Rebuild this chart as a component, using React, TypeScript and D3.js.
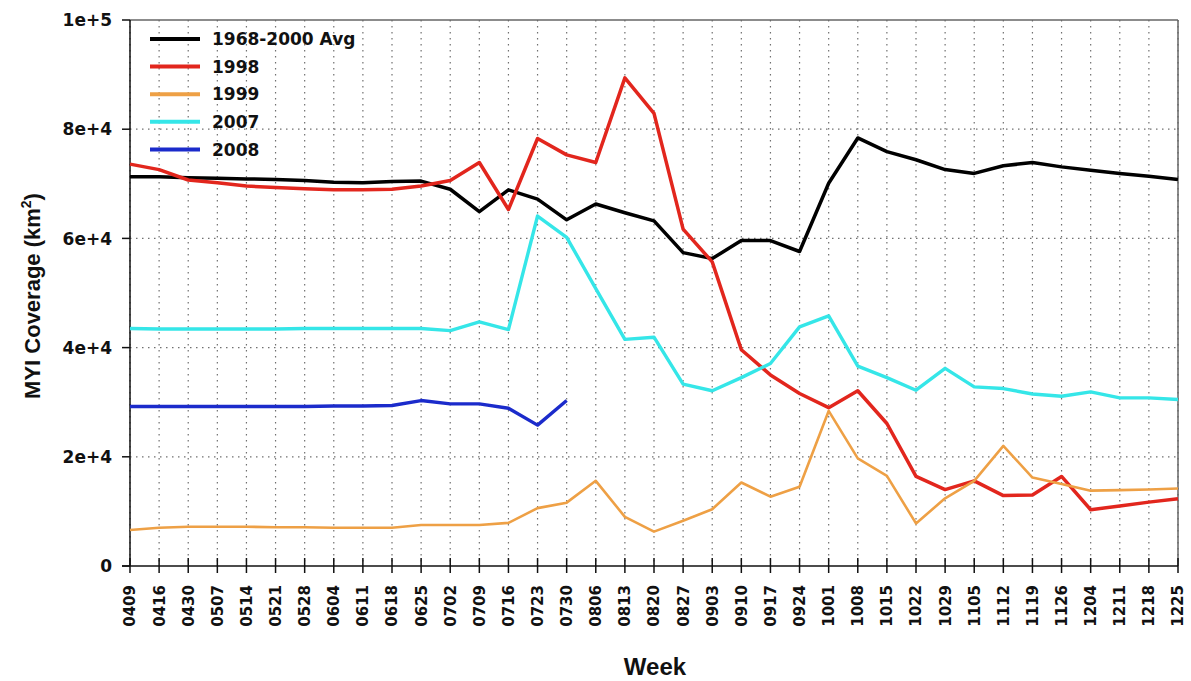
import React from "react";
import * as d3 from "d3";

const weeks = ["0409","0416","0430","0507","0514","0521","0528","0604","0611","0618","0625","0702","0709","0716","0723","0730","0806","0813","0820","0827","0903","0910","0917","0924","1001","1008","1015","1022","1029","1105","1112","1119","1126","1204","1211","1218","1225"];

const avg6800 = [71300,71300,71100,71000,70900,70800,70600,70300,70200,70400,70500,69000,64900,68900,67200,63400,66300,64700,63200,57400,56300,59600,59600,57600,70100,78400,75900,74400,72600,71900,73300,73900,73100,72500,71900,71400,70800];
const y1998 = [73600,72600,70700,70200,69600,69300,69100,68900,68900,69000,69600,70600,73900,65300,78300,75300,73900,89400,82900,61700,55700,39600,35000,31600,29000,32100,26100,16400,14000,15600,12900,13000,16400,10300,11000,11700,12300];
const y1999 = [6600,7000,7200,7200,7200,7100,7100,7000,7000,7000,7500,7500,7500,7900,10600,11600,15600,9000,6300,8300,10400,15300,12700,14500,28400,19700,16500,7800,12400,15600,22000,16200,15000,13800,13900,14000,14200];
const y2007 = [43500,43400,43400,43400,43400,43400,43500,43500,43500,43500,43500,43100,44700,43300,64100,60200,50800,41500,41900,33300,32100,34500,37100,43800,45800,36600,34500,32200,36200,32800,32500,31500,31100,31900,30800,30800,30500];
const y2008 = [29200,29200,29200,29200,29200,29200,29200,29300,29300,29400,30300,29700,29700,28900,25800,30300];

const seriesNames = ["1968-2000 Avg","1998","1999","2007","2008"];
const seriesColors = ["#000000","#e2261d","#eea045","#35e6e8","#1b2bcb"];
const seriesWidths = [3.5,3.5,2.6,3.4,3.4];
const seriesData = [avg6800,y1998,y1999,y2007,y2008];

const yTicks = [0,20000,40000,60000,80000,100000];
const yTickLabels = ["0","2e+4","4e+4","6e+4","8e+4","1e+5"];

export default function App() {
  const left = 130, right = 1178, top = 20, bottom = 566;
  const x = d3.scalePoint<string>().domain(weeks).range([left, right]);
  const y = d3.scaleLinear().domain([0, 100000]).range([bottom, top]);
  const line = d3.line<number>()
    .x((_, i) => x(weeks[i]) as number)
    .y((d) => y(d));
  const tickFont = "'DejaVu Sans', sans-serif";
  const titleFont = "'Liberation Sans', Arial, sans-serif";
  return (
    <svg width={1191} height={681} style={{ position: "absolute", left: 0, top: 0, background: "#fff" }}>
      {/* grid */}
      {weeks.map((w) => (
        <line key={"gv" + w} x1={x(w)} x2={x(w)} y1={top} y2={bottom} stroke="#707070" strokeWidth={1.2} strokeDasharray="1.5,4.5" />
      ))}
      {yTicks.slice(1, -1).map((t) => (
        <line key={"gh" + t} x1={left} x2={right} y1={y(t)} y2={y(t)} stroke="#707070" strokeWidth={1.2} strokeDasharray="1.5,4.5" />
      ))}
      {/* frame */}
      <line x1={left} x2={right} y1={top} y2={top} stroke="#666" strokeWidth={1.5} />
      <line x1={right} x2={right} y1={top} y2={bottom} stroke="#666" strokeWidth={1.5} />
      <line x1={left} x2={left} y1={top} y2={bottom} stroke="#111" strokeWidth={1.5} />
      <line x1={122} x2={right} y1={bottom} y2={bottom} stroke="#111" strokeWidth={1.5} />
      {/* y ticks */}
      {yTicks.map((t, i) => (
        <g key={"yt" + t}>
          <line x1={122} x2={left} y1={y(t)} y2={y(t)} stroke="#111" strokeWidth={1.5} />
          <text x={112} y={y(t)} dy="0.36em" textAnchor="end" fontFamily={tickFont} fontWeight="bold" fontSize={17} fill="#111">{yTickLabels[i]}</text>
        </g>
      ))}
      {/* x ticks */}
      {weeks.map((w) => (
        <g key={"xt" + w}>
          <line x1={x(w)} x2={x(w)} y1={bottom - 8} y2={bottom + 7} stroke="#111" strokeWidth={1.5} />
          <text transform={`translate(${x(w)},585) rotate(-90)`} dy="0.36em" textAnchor="end" fontFamily={tickFont} fontWeight="bold" fontSize={15} fill="#111">{w}</text>
        </g>
      ))}
      {/* series */}
      {seriesData.map((d, i) => (
        <path key={"s" + i} d={line(d) || ""} fill="none" stroke={seriesColors[i]} strokeWidth={seriesWidths[i]} strokeLinejoin="round" />
      ))}
      {/* legend */}
      {seriesNames.map((n, i) => (
        <g key={"lg" + n}>
          <line x1={150} x2={200} y1={39 + i * 27.6} y2={39 + i * 27.6} stroke={seriesColors[i]} strokeWidth={4} />
          <text x={212} y={39 + i * 27.6} dy="0.36em" fontFamily={tickFont} fontWeight="bold" fontSize={17} fill="#111">{n}</text>
        </g>
      ))}
      {/* titles */}
      <text x={655} y={675} textAnchor="middle" fontFamily={titleFont} fontWeight="bold" fontSize={24} fill="#111">Week</text>
      <text transform="translate(40,296) rotate(-90)" textAnchor="middle" fontFamily={titleFont} fontWeight="bold" fontSize={22} fill="#111">
        MYI Coverage (km<tspan fontSize={14} dy={-9}>2</tspan><tspan dy={9}>)</tspan>
      </text>
    </svg>
  );
}
